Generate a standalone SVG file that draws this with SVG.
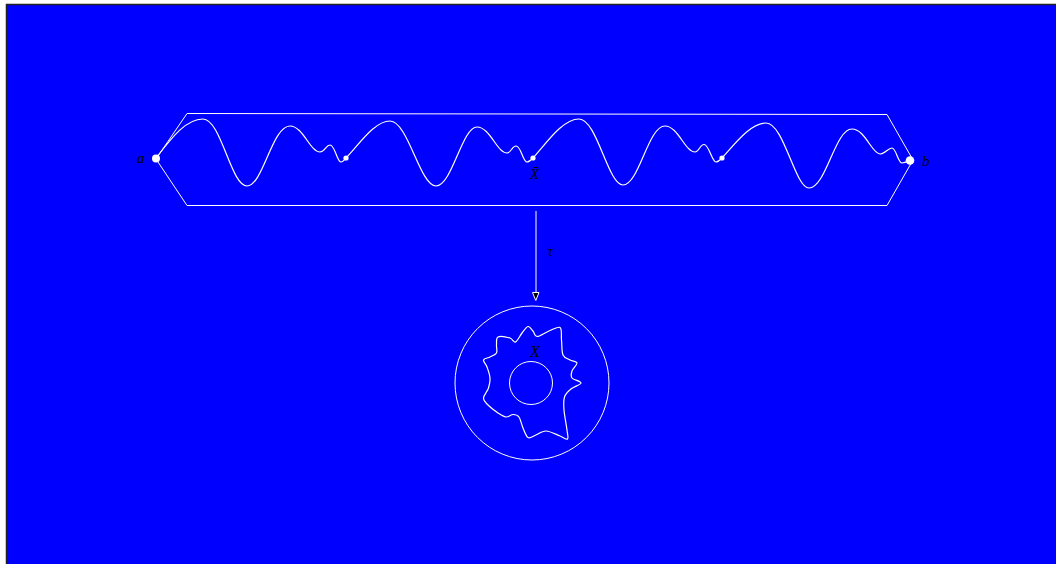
<svg xmlns="http://www.w3.org/2000/svg" width="1056" height="564" viewBox="0 0 1056 564">
  <style>
    .ln { fill: none; stroke: #ffffff; stroke-width: 1; }
    .wave { fill: none; stroke: #ffffff; stroke-width: 1.2; stroke-linecap: round; stroke-linejoin: round; }
    .dot { fill: #ffffff; }
    .lbl { font-family: "Liberation Serif", "DejaVu Serif", serif; font-style: italic; font-size: 15px; fill: #000000; }
  </style>
  <rect x="0" y="0" width="1056" height="564" fill="#ffffff"/>
  <rect id="frame" x="6.5" y="4.5" width="1060" height="570" fill="#0000ff" stroke="#222222" stroke-width="1.5"/>

  <g id="path-space">
    <polygon class="ln" points="187,113.5 887,114.5 913,160 887,205.5 187,205.5 156,159"/>
    <path class="wave" d="M156,158 C170,140 185,119 203,119 C221,119 231,186 247,186 C263,186 272,126 290,126 C303,126 310,152 320,152 C325,152 326,145 330,145 C335,145 337,162 341,162 C343,162 344,160 346,158"/>
    <path class="wave" d="M346,158 C358,146 374,121 390,121 C408,121 420,186 436,186 C452,186 462,127 477,127 C490,127 497,153 507,153 C511,153 512,146 516,146 C521,146 523,162 527,162 C529,162 531,160 533,158"/>
    <path class="wave" d="M533,158 C545,145 562,119 579,119 C597,119 608,185 623,185 C639,185 648,126 665,126 C678,126 685,152 695,152 C699,152 700,144.5 704,144.5 C709,144.5 712,162 716,162 C718,162 720,160 722,158"/>
    <path class="wave" d="M722,158 C734,145 750,123 766,123 C784,123 795,188 809,188 C826,188 835,129 852,129 C865,129 872,154 880,154 C885,154 888,148 892,148 C896,148 898,163 902,163 C905,163 908,161 910,160"/>
    <circle class="dot" cx="156" cy="158.5" r="4"/>
    <circle class="dot" cx="910" cy="160.5" r="4.3"/>
    <circle class="dot" cx="346" cy="158" r="2.6"/>
    <circle class="dot" cx="533" cy="158" r="2.6"/>
    <circle class="dot" cx="722" cy="158" r="2.6"/>
    <text class="lbl" x="137" y="163">a</text>
    <text class="lbl" x="922" y="165.5">b</text>
    <text class="lbl" x="530" y="178.5">X̄</text>
  </g>

  <g id="connectors">
    <line class="ln" x1="536" y1="211" x2="536" y2="292.5"/>
    <polygon points="532.5,292.5 539,292.5 535.8,300.5" fill="#000000" stroke="#ffffff" stroke-width="1"/>
    <text class="lbl" x="547.5" y="256">τ</text>
  </g>

  <g id="target-space">
    <circle class="ln" cx="532" cy="383" r="77"/>
    <circle class="ln" cx="531" cy="383" r="21.5"/>
    <path class="wave" d="M498,337 C500.25,335.83 507.08,337.17 510,338 C512.92,338.83 513.5,342.83 515.5,342 C517.5,341.17 519.92,335.58 522,333 C524.08,330.42 526.17,326.83 528,326.5 C529.83,326.17 531.5,329.33 533,331 C534.5,332.67 534.5,336.42 537,336.5 C539.5,336.58 544.17,333 548,331.5 C551.83,330 557.75,326.08 560,327.5 C562.25,328.92 561,335.42 561.5,340 C562,344.58 561.58,351.67 563,355 C564.42,358.33 567.67,358.67 570,360 C572.33,361.33 576.67,361.17 577,363 C577.33,364.83 572.83,368.5 572,371 C571.17,373.5 570.5,376 572,378 C573.5,380 581.17,381.17 581,383 C580.83,384.83 573.75,386.67 571,389 C568.25,391.33 565.67,393.5 564.5,397 C563.33,400.5 563.58,404.5 564,410 C564.42,415.5 566.42,425.17 567,430 C567.58,434.83 568.67,438 567.5,439 C566.33,440 563.58,437.33 560,436 C556.42,434.67 550.17,431.08 546,431 C541.83,430.92 538,434.42 535,435.5 C532,436.58 530,438.75 528,437.5 C526,436.25 524.5,431.42 523,428 C521.5,424.58 520.67,419.25 519,417 C517.33,414.75 515.17,414.5 513,414.5 C510.83,414.5 508.5,417.25 506,417 C503.5,416.75 501,415 498,413 C495,411 490.42,407.5 488,405 C485.58,402.5 483.42,400.83 483.5,398 C483.58,395.17 487.42,391.33 488.5,388 C489.58,384.67 490.25,381.5 490,378 C489.75,374.5 488.08,370 487,367 C485.92,364 483,361.67 483.5,360 C484,358.33 487.83,358.17 490,357 C492.17,355.83 495.42,355 496.5,353 C497.58,351 496.25,347.67 496.5,345 C496.75,342.33 495.75,338.17 498,337 Z"/>
    <text class="lbl" x="530" y="357" style="font-size:16px">X</text>
  </g>
</svg>
